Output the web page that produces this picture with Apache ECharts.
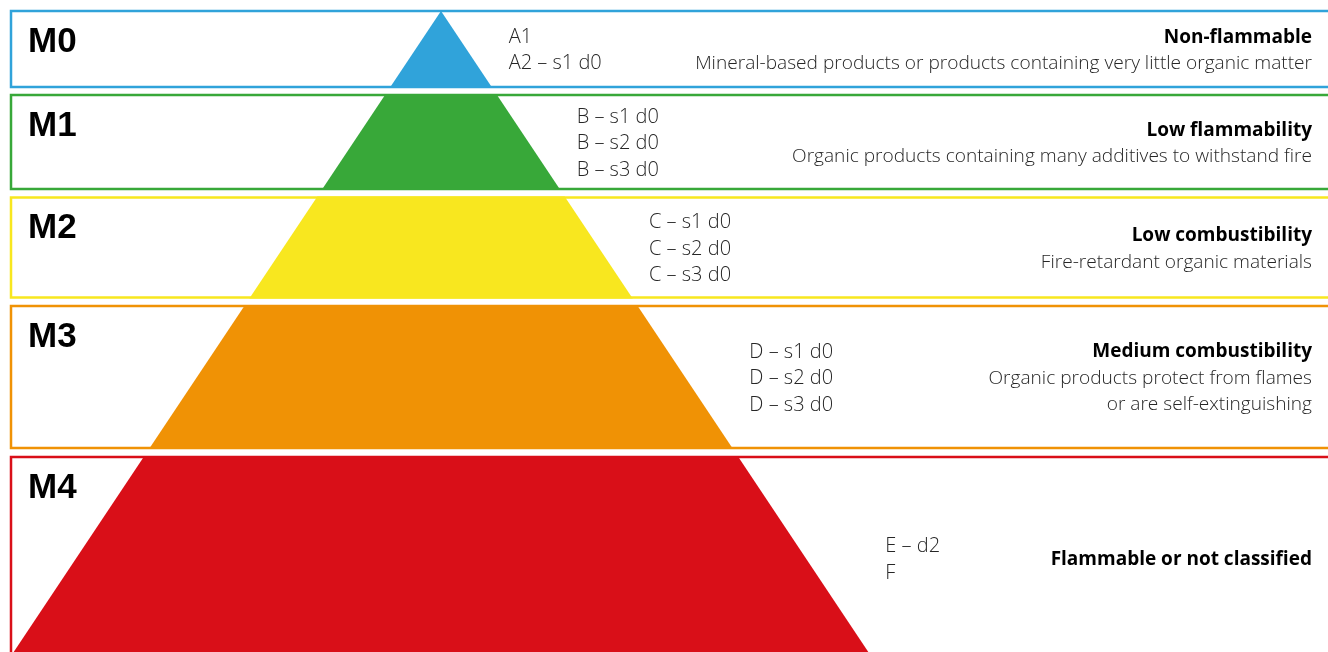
<!DOCTYPE html>
<html>
<head>
<meta charset="utf-8">
<script src="https://cdn.jsdelivr.net/npm/echarts@6/dist/echarts.min.js"></script>
<style>
html,body{margin:0;padding:0;background:#fff;}
#chart{width:1328px;height:652px;}
</style>
</head>
<body>
<div id="chart"></div>
<script>
// ---- data ----
const levels = ['M0', 'M1', 'M2', 'M3', 'M4'];
const classes = [
  ['A1', 'A2 – s1 d0'],
  ['B – s1 d0', 'B – s2 d0', 'B – s3 d0'],
  ['C – s1 d0', 'C – s2 d0', 'C – s3 d0'],
  ['D – s1 d0', 'D – s2 d0', 'D – s3 d0'],
  ['E – d2', 'F']
];
const titles = ['Non-flammable', 'Low flammability', 'Low combustibility', 'Medium combustibility', 'Flammable or not classified'];
const descriptions = [
  ['Mineral-based products or products containing very little organic matter'],
  ['Organic products containing many additives to withstand fire'],
  ['Fire-retardant organic materials'],
  ['Organic products protect from flames', 'or are self-extinguishing'],
  []
];
// depth of each band (from pyramid apex)
const bandTop = [0, 84, 186.5, 295, 446];
const bandBottom = [76, 178, 286.5, 437, 649];
const colors = ['#30a3da', '#38a839', '#f8e71f', '#f09205', '#d90f18'];

// ---- chart ----
const SLOPE = 2 / 3;          // pyramid half-width per unit depth
const X_MIN = -441, X_MAX = 887, Y_MIN = -11, Y_MAX = 641;
const chart = echarts.init(document.getElementById('chart'), null, { renderer: 'canvas' });

const seriesData = levels.map((l, i) => [i, bandTop[i], bandBottom[i]]);
const FONT = '"Open Sans", "Noto Sans", sans-serif';

function renderItem(params, api) {
  const i = api.value(0);
  const t = api.value(1), b = api.value(2);
  const color = colors[i];
  const topLeft = api.coord([X_MIN + 11, t]);
  const botRight = api.coord([X_MAX + 40, b]);
  const children = [];
  // box
  children.push({
    type: 'rect',
    shape: { x: topLeft[0], y: topLeft[1], width: botRight[0] - topLeft[0], height: botRight[1] - topLeft[1] },
    style: { fill: '#fff', stroke: color, lineWidth: 2.5 }
  });
  // pyramid slice
  const bb = Math.min(b + 1, Y_MAX + 5);
  const tt = Math.max(t - 1, 0);
  const pts = [
    api.coord([-SLOPE * tt, tt]),
    api.coord([SLOPE * tt, tt]),
    api.coord([SLOPE * bb, bb]),
    api.coord([-SLOPE * bb, bb])
  ];
  children.push({ type: 'polygon', shape: { points: pts }, style: { fill: color } });
  const cy = (topLeft[1] + botRight[1]) / 2 + 1.5;
  // level label
  children.push({
    type: 'text',
    style: { text: levels[i], x: topLeft[0] + 17, y: topLeft[1] + 31, fill: '#000',
      font: 'bold 35px "Liberation Sans", Arial, sans-serif', align: 'left', verticalAlign: 'middle' }
  });
  // class codes
  const codeDepth = Math.min(b, Y_MAX);
  const codeX = api.coord([SLOPE * codeDepth, codeDepth])[0] + 17;
  const lh = 26.5;
  const cl = classes[i];
  cl.forEach((c, k) => {
    children.push({
      type: 'text',
      style: { text: c, x: codeX, y: cy + (k - (cl.length - 1) / 2) * lh, fill: '#262626',
        font: '300 20px ' + FONT, align: 'left', verticalAlign: 'middle' }
    });
  });
  // right texts
  const lines = [{ text: titles[i], bold: true }].concat(descriptions[i].map(d => ({ text: d, bold: false })));
  lines.forEach((ln, k) => {
    children.push({
      type: 'text',
      style: { text: ln.text, x: 1312, y: cy + (k - (lines.length - 1) / 2) * lh, fill: ln.bold ? '#000' : '#262626',
        font: (ln.bold ? 'bold 19px ' : '300 19.1px ') + FONT, align: 'right', verticalAlign: 'middle' }
    });
  });
  return { type: 'group', children };
}

chart.setOption({
  animation: false,
  grid: { left: 0, right: 0, top: 0, bottom: 0 },
  xAxis: { type: 'value', min: X_MIN, max: X_MAX, show: false },
  yAxis: { type: 'value', min: Y_MIN, max: Y_MAX, inverse: true, show: false },
  series: [{
    type: 'custom',
    renderItem,
    data: seriesData,
    clip: false
  }]
});
</script>
</body>
</html>
